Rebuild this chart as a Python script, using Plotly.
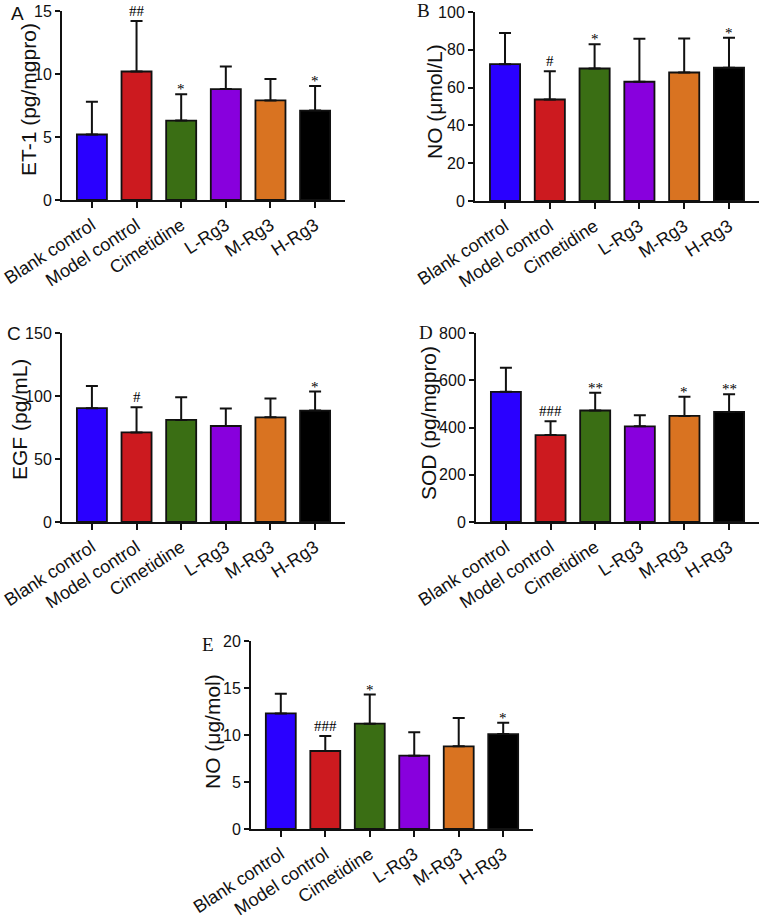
import plotly.graph_objects as go

W, H = 761, 919

categories = ["Blank control", "Model control", "Cimetidine", "L-Rg3", "M-Rg3", "H-Rg3"]
bar_colors = ["#2a00ff", "#cc1a1f", "#3a6e14", "#8800dd", "#d97321", "#000000"]

# Panel A: ET-1
et1_mean = [5.2, 10.2, 6.3, 8.8, 7.9, 7.1]
et1_sd = [2.6, 4.0, 2.1, 1.8, 1.7, 1.95]
et1_marks = ["", "##", "*", "", "", "*"]
# Panel B: NO (umol/L)
no_mean = [72.4, 53.7, 70.1, 63.1, 68.0, 70.5]
no_sd = [16.5, 14.9, 12.9, 22.8, 18.0, 15.9]
no_marks = ["", "#", "*", "", "", "*"]
# Panel C: EGF
egf_mean = [90.3, 71.1, 81.0, 76.2, 83.1, 88.4]
egf_sd = [17.7, 20.0, 18.0, 13.8, 14.9, 15.1]
egf_marks = ["", "#", "", "", "", "*"]
# Panel D: SOD
sod_mean = [551, 368, 472, 405, 449, 466]
sod_sd = [102, 58, 75, 47, 81, 75]
sod_marks = ["", "###", "**", "", "*", "**"]
# Panel E: NO (ug/mol)
no2_mean = [12.3, 8.3, 11.2, 7.8, 8.8, 10.1]
no2_sd = [2.1, 1.6, 3.1, 2.5, 3.0, 1.2]
no2_marks = ["", "###", "*", "", "", "*"]

panels = [
    # letter, letter font, title, mean, sd, marks, ymax, dtick, px box (x0,x1,ytop,ybot), title pos, letter pos
    ("A", "Liberation Sans", "ET-1 (pg/mgpro)", et1_mean, et1_sd, et1_marks, 15, 5,
     (62, 345, 11, 200), (28, 100), (17, 14)),
    ("B", "Liberation Serif", "NO (μmol/L)", no_mean, no_sd, no_marks, 100, 20,
     (475, 759, 12, 201), (435, 102), (424, 11)),
    ("C", "Liberation Sans", "EGF (pg/mL)", egf_mean, egf_sd, egf_marks, 150, 50,
     (62, 345, 333, 522), (19, 420), (14, 333)),
    ("D", "Liberation Serif", "SOD (pg/mgpro)", sod_mean, sod_sd, sod_marks, 800, 200,
     (476, 759, 333, 522), (428, 423), (426, 332)),
    ("E", "Liberation Serif", "NO (μg/mol)", no2_mean, no2_sd, no2_marks, 20, 5,
     (251, 533, 641, 829), (212, 731), (208, 644)),
]

fig = go.Figure()
annotations = []
layout_axes = {}
for i, (letter, lfont, title, mean, sd, marks, ymax, dtick, box, tpos, lpos) in enumerate(panels):
    n = "" if i == 0 else str(i + 1)
    xa, ya = "x" + n, "y" + n
    fig.add_trace(go.Bar(
        x=categories, y=mean, xaxis=xa, yaxis=ya,
        marker=dict(color=bar_colors, line=dict(color="#111111", width=1.8)),
        error_y=dict(type="data", array=sd, arrayminus=[0] * len(sd), symmetric=False,
                     color="#111111", thickness=2, width=6),
        showlegend=False, hoverinfo="skip",
    ))
    x0, x1, yt, yb = box
    layout_axes["xaxis" + n] = dict(
        domain=[x0 / W, x1 / W], anchor=ya, type="category", automargin=False,
        range=[-0.67, len(categories) - 1 + 0.67],
        showline=True, linecolor="#111111", linewidth=2,
        ticks="outside", ticklen=6, tickwidth=2, tickcolor="#111111",
        tickangle=-33, tickfont=dict(family="Liberation Sans", size=18, color="#111111"),
        showgrid=False, zeroline=False, fixedrange=True,
    )
    layout_axes["yaxis" + n] = dict(
        domain=[1 - yb / H, 1 - yt / H], anchor=xa, range=[0, ymax], dtick=dtick, tick0=0,
        automargin=False,
        showline=True, linecolor="#111111", linewidth=2,
        ticks="outside", ticklen=5, tickwidth=2, tickcolor="#111111",
        tickfont=dict(family="Liberation Sans", size=16, color="#111111"),
        showgrid=False, zeroline=False, fixedrange=True,
    )
    annotations.append(dict(
        text=title, textangle=-90, xref="paper", yref="paper",
        x=tpos[0] / W, y=1 - tpos[1] / H, xanchor="center", yanchor="middle",
        showarrow=False, font=dict(family="Liberation Sans", size=21, color="#111111"),
    ))
    annotations.append(dict(
        text=letter, xref="paper", yref="paper",
        x=lpos[0] / W, y=1 - lpos[1] / H, xanchor="center", yanchor="middle",
        showarrow=False, font=dict(family=lfont, size=19, color="#111111"),
    ))
    for c, m, s, mk in zip(categories, mean, sd, marks):
        if mk:
            annotations.append(dict(
                text=mk, xref=xa, yref=ya, x=c, y=m + s,
                xanchor="center", yanchor="bottom", showarrow=False,
                yshift=-5 if "*" in mk else 0,
                font=dict(family="Liberation Serif", size=15, color="#000000"),
            ))

fig.update_layout(
    width=W, height=H, margin=dict(l=0, r=0, t=0, b=0, autoexpand=False),
    paper_bgcolor="white", plot_bgcolor="white",
    bargap=0.327, annotations=annotations, **layout_axes,
)
fig.write_html("out.html", config={"displayModeBar": False, "staticPlot": True},
               post_script="document.body.style.margin='0';document.body.style.padding='0';")
